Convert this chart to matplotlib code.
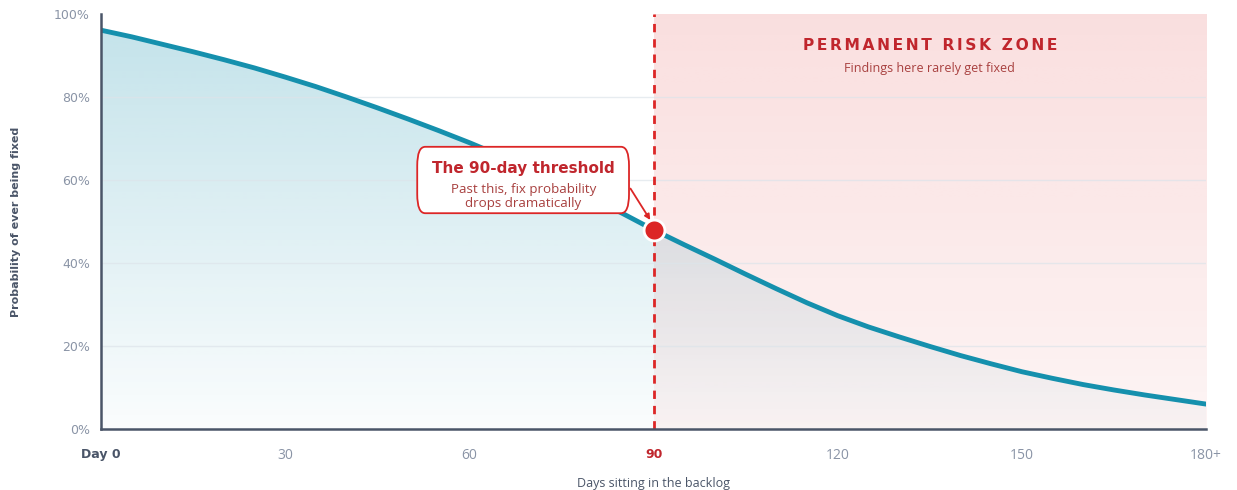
import numpy as np
import matplotlib.pyplot as plt
from matplotlib.colors import to_rgb
from matplotlib.patches import FancyBboxPatch

# survival of a finding vs. days it has sat in the backlog
days = [0, 5, 10, 15, 20, 25, 30, 35, 40, 45, 50, 55, 60, 65, 70, 75, 80, 85, 90,
        95, 100, 105, 110, 115, 120, 125, 130, 135, 140, 145, 150, 155, 160, 165, 170, 175, 180]
fix_prob = [96.1, 94.5, 92.7, 90.9, 89.0, 87.0, 84.8, 82.5, 80.0, 77.4, 74.7, 71.9, 69.0,
            65.9, 62.6, 59.2, 55.6, 51.9, 48.0, 44.4, 40.9, 37.3, 33.8, 30.4, 27.3, 24.6,
            22.2, 19.9, 17.7, 15.7, 13.8, 12.2, 10.7, 9.4, 8.2, 7.1, 6.0]

threshold_day = 90
threshold_prob = 48.0

xticks = [0, 30, 60, 90, 120, 150, 180]
xtick_labels = ["Day 0", "30", "60", "90", "120", "150", "180+"]
yticks = [0, 20, 40, 60, 80, 100]
ytick_labels = ["0%", "20%", "40%", "60%", "80%", "100%"]

TEAL = "#1590ad"
RED = "#dc2626"
DARK_RED = "#c0262d"
SOFT_RED = "#a8403f"
SLATE = "#4a5568"
GRAY = "#8a94a6"
SANS2 = ["Open Sans", "DejaVu Sans"]

fig = plt.figure(figsize=(12.37, 4.90), dpi=100)
ax = fig.add_axes([0.0817, 0.1245, 0.975 - 0.0817, 0.9714 - 0.1245])
ax.set_xlim(0, 180)
ax.set_ylim(0, 100)

# pink "risk zone" band with a soft top-to-bottom fade
n = 256
pink = np.zeros((n, 1, 4))
pink[..., :3] = to_rgb(RED)
pink[:, 0, 3] = np.linspace(0.15, 0.05, n)
ax.imshow(pink, extent=[threshold_day, 180, 0, 100], aspect="auto", origin="upper",
          zorder=0, interpolation="bilinear")

# teal gradient under the curve
poly = ax.fill_between(days, fix_prob, 0, color="none", lw=0)
teal = np.zeros((n, 1, 4))
teal[..., :3] = to_rgb(TEAL)
teal[:, 0, 3] = np.linspace(0.26, 0.02, n)
im = ax.imshow(teal, extent=[0, 180, 0, 100], aspect="auto", origin="upper",
               zorder=1, interpolation="bilinear")
im.set_clip_path(poly.get_paths()[0], transform=ax.transData)

for y in [20, 40, 60, 80]:
    ax.axhline(y, color="#dde4ea", lw=1, alpha=0.7, zorder=1.5)

ax.plot(days, fix_prob, color=TEAL, lw=3.5, zorder=3, solid_capstyle="round",
        solid_joinstyle="round")

ax.axvline(threshold_day, color=RED, lw=2, ls=(0, (3, 2.5)), zorder=4)
ax.plot([threshold_day], [threshold_prob], "o", ms=15, color=RED, mec="white", mew=2, zorder=6)

# callout box
box = FancyBboxPatch((51.5, 52), 34.5, 16, boxstyle="round,pad=0,rounding_size=1.3",
                     fc="white", ec=RED, lw=1.3, zorder=5, mutation_aspect=3.5)
ax.add_patch(box)
ax.text(68.8, 62.8, "The 90-day threshold", ha="center", va="center", fontsize=11,
        fontweight="bold", color=DARK_RED, zorder=6)
ax.text(68.8, 56.1, "Past this, fix probability\ndrops dramatically", ha="center", va="center",
        fontsize=9.6, color=SOFT_RED, zorder=6, linespacing=1.1, family=SANS2)
ax.annotate("", xy=(threshold_day - 0.3, threshold_prob + 1.8), xytext=(86, 58.5),
            arrowprops=dict(arrowstyle="-|>", color=RED, lw=1.3, mutation_scale=8), zorder=6)

spaced = " \u2006\u2006".join("\u2006".join(w) for w in ["PERMANENT", "RISK", "ZONE"])
ax.text(135, 92.4, spaced, ha="center", va="center", fontsize=11.2, fontweight="bold",
        color=DARK_RED, zorder=6)
ax.text(135, 86.8, "Findings here rarely get fixed", ha="center", va="center", fontsize=9,
        color=SOFT_RED, zorder=6, family=SANS2)

for side in ["top", "right"]:
    ax.spines[side].set_visible(False)
for side in ["left", "bottom"]:
    ax.spines[side].set_color(SLATE)
    ax.spines[side].set_linewidth(1.8)
    ax.spines[side].set_zorder(7)

ax.set_yticks(yticks)
ax.set_yticklabels(ytick_labels, fontsize=9, color=GRAY)
ax.set_xticks(xticks)
ax.set_xticklabels(xtick_labels, fontsize=10, color=GRAY, family=SANS2)
ax.tick_params(length=0)
ax.tick_params(axis="x", pad=14)
ax.tick_params(axis="y", pad=8)
for lbl in ax.get_xticklabels():
    if lbl.get_text() == "Day 0":
        lbl.set_fontweight("bold")
        lbl.set_color(SLATE)
        lbl.set_family("DejaVu Sans")
        lbl.set_fontsize(9)
    elif lbl.get_text() == "90":
        lbl.set_fontweight("bold")
        lbl.set_color(DARK_RED)
        lbl.set_family("DejaVu Sans")
        lbl.set_fontsize(9)

ax.set_xlabel("Days sitting in the backlog", fontsize=9, color=SLATE, labelpad=10, family=SANS2)
ax.set_ylabel("Probability of ever being fixed", fontsize=8, color=SLATE, fontweight="bold",
              labelpad=24)

fig.savefig("out.png", dpi=100)
